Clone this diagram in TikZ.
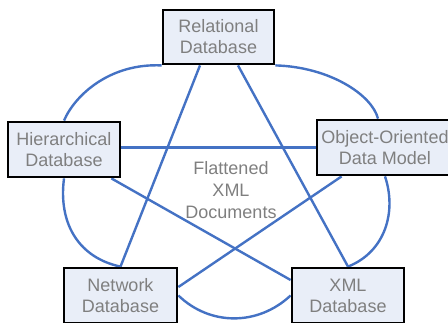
\documentclass[tikz,border=0pt]{standalone}
\usepackage{fontspec}
\setmainfont{Liberation Sans}
\usetikzlibrary{calc}
\pgfdeclarelayer{back}
\pgfsetlayers{back,main}
\definecolor{boxfill}{HTML}{E9EEF8}
\definecolor{linkblue}{HTML}{4472C4}
\definecolor{labelgray}{HTML}{7F7F7F}
\tikzset{
  dbbox/.style={draw=black, line width=2.8pt, fill=boxfill, text=labelgray,
    align=center, inner sep=0pt, font=\fontsize{18}{21}\selectfont},
  link/.style={draw=linkblue, line width=2.4pt},
  caption/.style={text=labelgray, align=center, font=\fontsize{18}{22}\selectfont}
}
\begin{document}
\begin{tikzpicture}[x=1pt, y=-1pt]
  \useasboundingbox (0,0) rectangle (448,322);
  \clip (0,0) rectangle (448,322);

  % database models
  \node[dbbox, minimum width=111pt, minimum height=54pt] (rel)  at (218.5,37)   {Relational\\Database};
  \node[dbbox, minimum width=112pt, minimum height=55pt] (hier) at (64,149.5)   {Hierarchical\\Database};
  \node[dbbox, minimum width=136pt, minimum height=55pt] (oo)   at (385,147.5)  {Object-Oriented\\Data Model};
  \node[dbbox, minimum width=113pt, minimum height=55pt] (net)  at (120.5,295.5) {Network\\Database};
  \node[dbbox, minimum width=112pt, minimum height=55pt] (xml)  at (348,295.5)  {XML\\Database};

  \node[caption] (flat) at (231,190) {Flattened\\XML\\Documents};

  \begin{pgfonlayer}{back}
    % outer ring
    \draw[link] (rel.south west) .. controls (110,63) and (75,95) .. (hier.north);
    \draw[link] (rel.south east) .. controls (330,67) and (372,95) .. ($(oo.north)+(-7,0)$);
    \draw[link] (hier.south) .. controls (58,225) and (80,258) .. (net.north);
    \draw[link] (oo.south) .. controls (397,212) and (385,252) .. (xml.north);
    \draw[link] (net.east) .. controls (210,326) and (258,326) .. (xml.west);

    % inner star
    \draw[link] ($(rel.south)+(-18.5,0)$) -- (net.north);
    \draw[link] ($(rel.south)+(19.5,0)$) -- (xml.north);
    \draw[link] (hier.east |- oo.west) -- (oo.west);
    \draw[link] ($(hier.south east)+(-10,0)$) -- ($(xml.west)+(0,-15.5)$);
    \draw[link] ($(oo.south west)+(26,0)$) -- ($(net.east)+(0,-8.5)$);
  \end{pgfonlayer}
\end{tikzpicture}
\end{document}
